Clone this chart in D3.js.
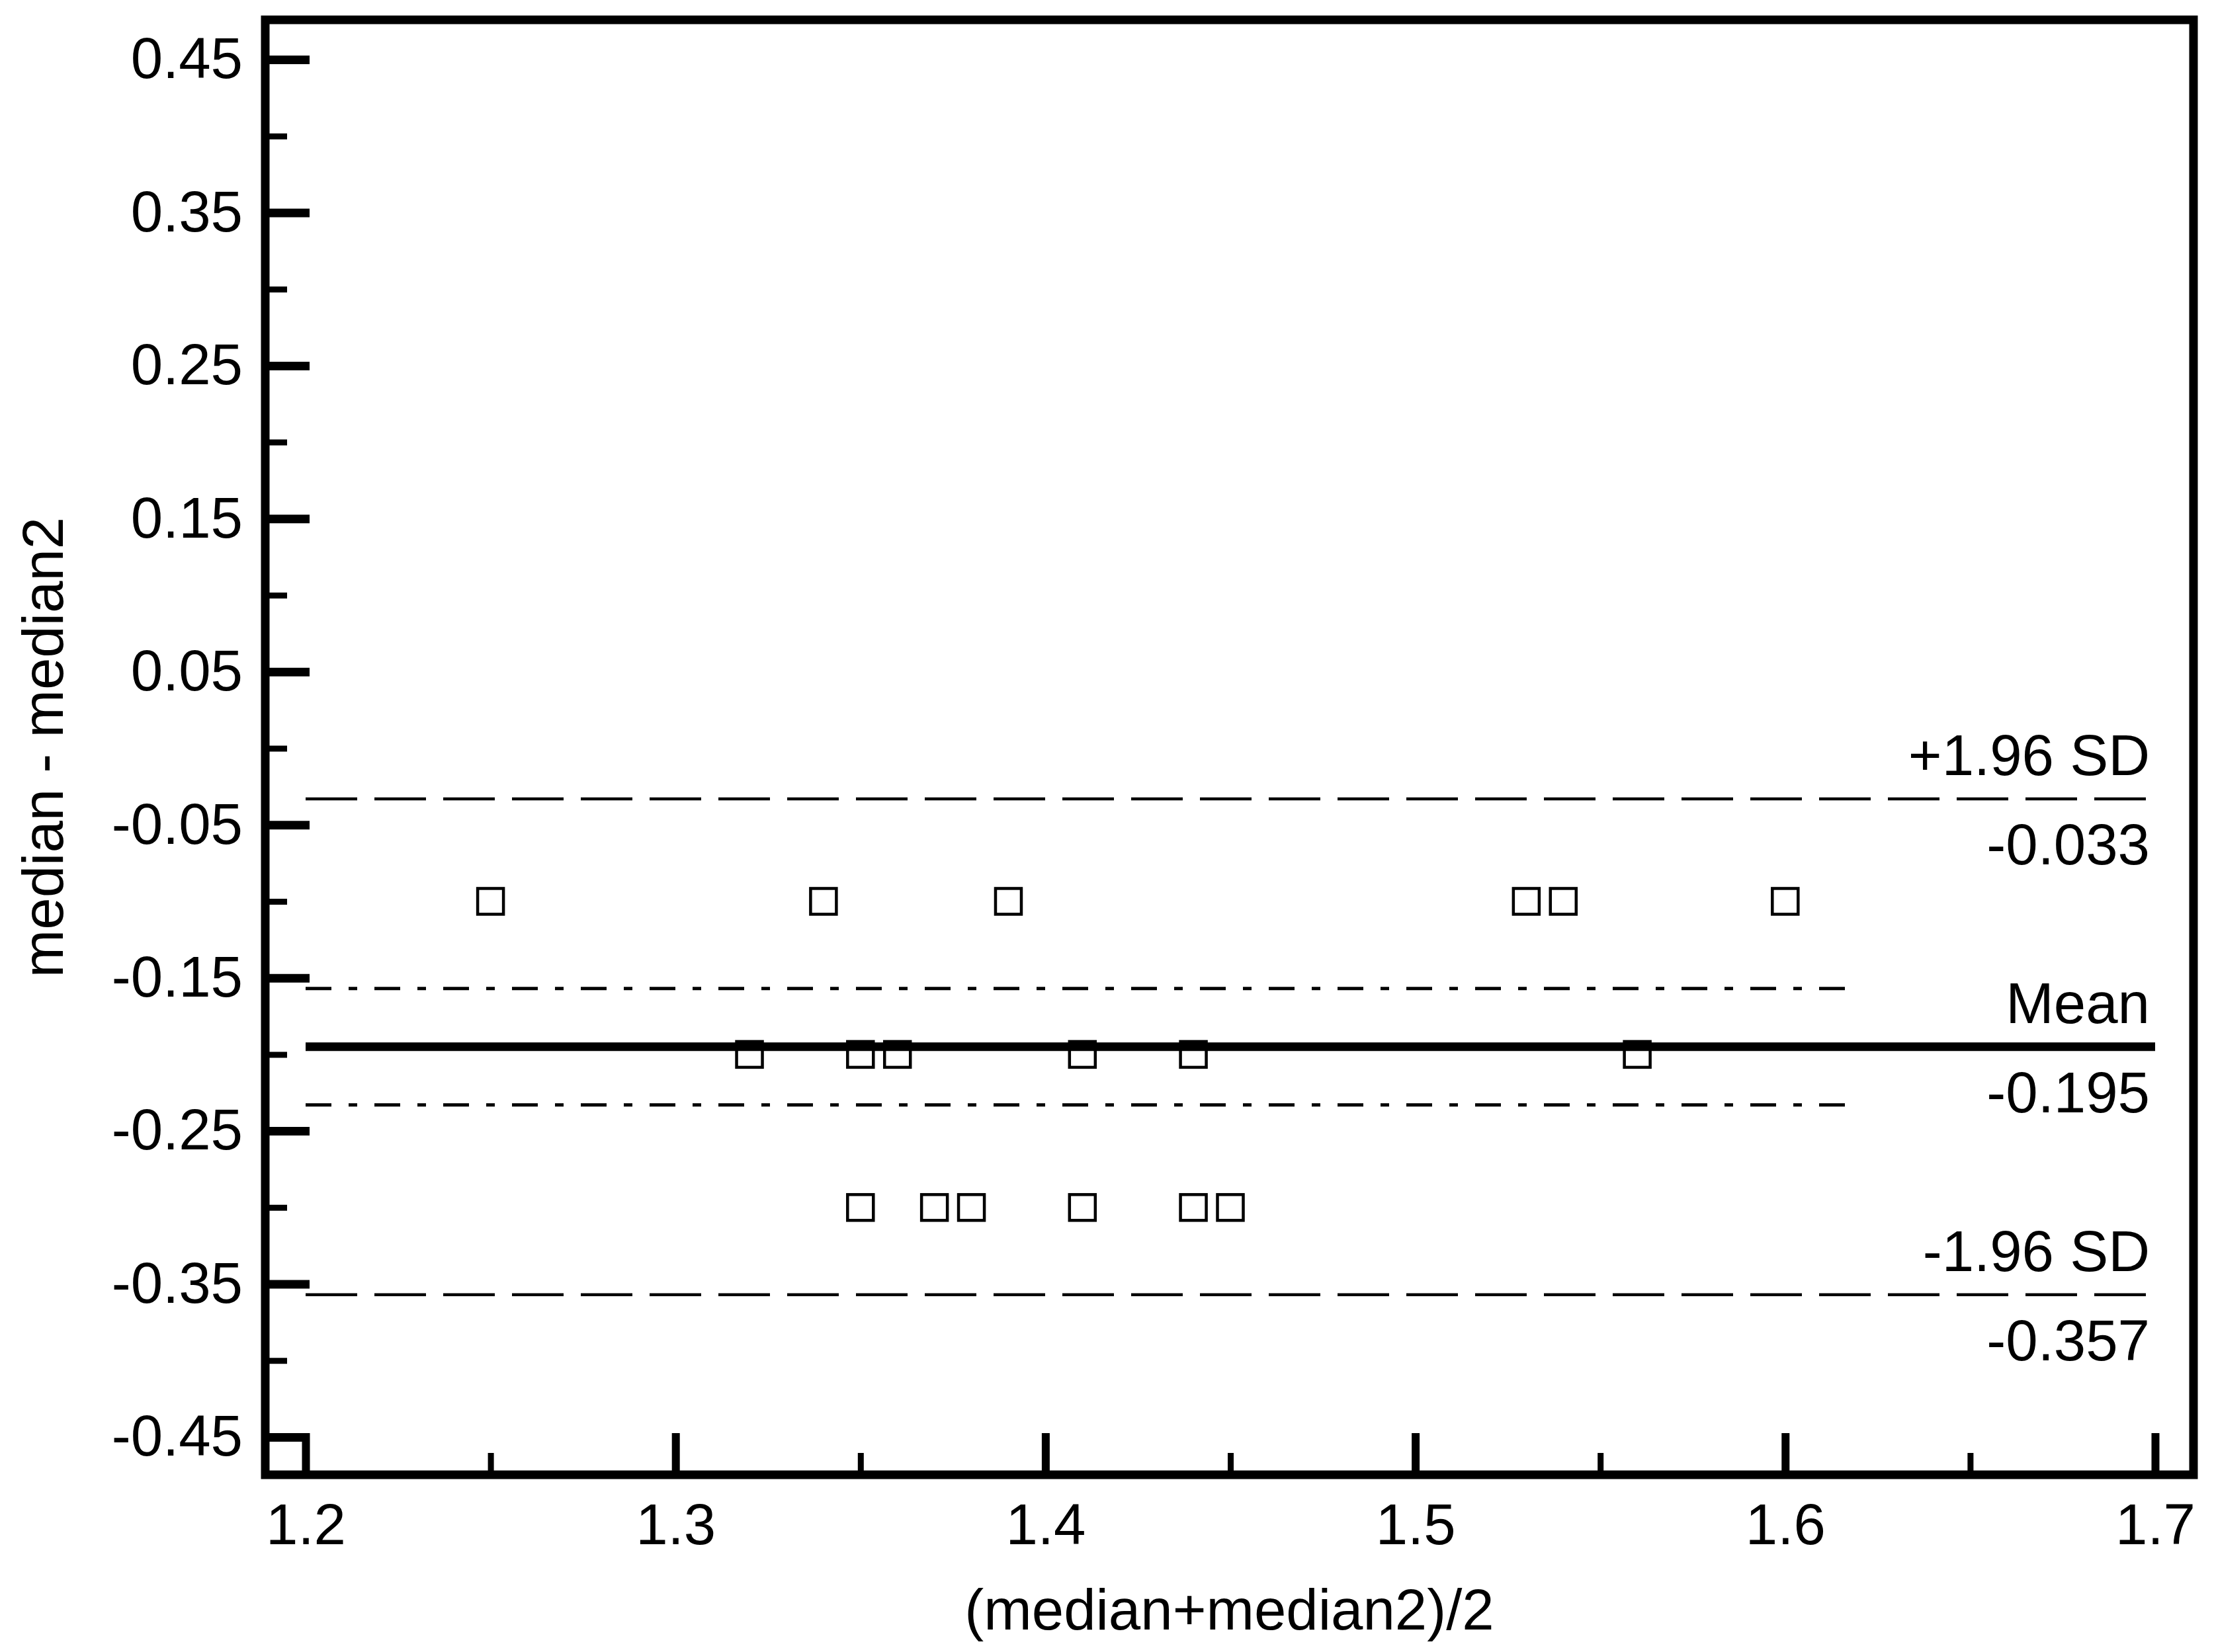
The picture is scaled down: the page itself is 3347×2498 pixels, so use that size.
<!DOCTYPE html>
<html>
<head>
<meta charset="utf-8">
<script src="https://cdn.jsdelivr.net/npm/d3@7"></script>
<style>
  html, body { margin: 0; padding: 0; background: #ffffff; }
  svg { display: block; }
  text { font-family: "Liberation Sans", Arial, sans-serif; fill: #000; }
</style>
</head>
<body>
<script>
// ---- data ----
const meanValues = [1.25, 1.34, 1.39, 1.53, 1.54, 1.60,
                    1.32, 1.35, 1.36, 1.41, 1.44, 1.56,
                    1.35, 1.37, 1.38, 1.41, 1.44, 1.45];
const diffValues = [-0.10, -0.10, -0.10, -0.10, -0.10, -0.10,
                    -0.20, -0.20, -0.20, -0.20, -0.20, -0.20,
                    -0.30, -0.30, -0.30, -0.30, -0.30, -0.30];
const limitValues = [-0.033, -0.195, -0.357];
const limitNames = ["+1.96 SD", "Mean", "-1.96 SD"];
const ciValues = [-0.157, -0.233];
const ciEnd = 1.618;
const xMajorTicks = [1.2, 1.3, 1.4, 1.5, 1.6, 1.7];
const xMinorTicks = [1.25, 1.35, 1.45, 1.55, 1.65];
const yMajorTicks = [0.45, 0.35, 0.25, 0.15, 0.05, -0.05, -0.15, -0.25, -0.35, -0.45];
const yMinorTicks = [0.40, 0.30, 0.20, 0.10, 0.00, -0.10, -0.20, -0.30, -0.40];
const xTitle = "(median+median2)/2";
const yTitle = "median - median2";

// ---- layout ----
const W = 3347, H = 2498;
const frame = { left: 401, right: 3316, top: 30, bottom: 2230 };
const fontSize = 87;

const x = d3.scaleLinear().domain([1.2, 1.7]).range([462, 3258]);
const y = d3.scaleLinear().domain([0.45, -0.45]).range([90, 2173]);

const svg = d3.select("body").append("svg").attr("width", W).attr("height", H);
svg.append("rect").attr("width", W).attr("height", H).attr("fill", "#fff");

// reference lines
const lineX0 = x(1.2), lineX1 = x(1.7);
const refG = svg.append("g");
limitValues.forEach((v, i) => {
  const isMean = i === 1;
  refG.append("line")
    .attr("x1", lineX0).attr("x2", lineX1)
    .attr("y1", y(v)).attr("y2", y(v))
    .attr("stroke", "#000")
    .attr("stroke-width", isMean ? 13 : 4.5)
    .attr("stroke-dasharray", isMean ? null : "78 26");
  refG.append("text")
    .attr("x", lineX1 - 8).attr("y", y(v) - 66)
    .attr("dominant-baseline", "central")
    .attr("text-anchor", "end")
    .attr("font-size", fontSize)
    .text(limitNames[i]);
  refG.append("text")
    .attr("x", lineX1 - 8).attr("y", y(v) + 69)
    .attr("dominant-baseline", "central")
    .attr("text-anchor", "end")
    .attr("font-size", fontSize)
    .text(v.toFixed(3));
});
ciValues.forEach(v => {
  refG.append("line")
    .attr("x1", lineX0).attr("x2", x(ciEnd))
    .attr("y1", y(v)).attr("y2", y(v))
    .attr("stroke", "#000")
    .attr("stroke-width", 5)
    .attr("stroke-dasharray", "39 26 13 26");
});

// points (open squares)
const sq = 39;
svg.append("g").selectAll("rect")
  .data(meanValues.map((m, i) => [m, diffValues[i]]))
  .join("rect")
  .attr("x", d => x(d[0]) - sq / 2)
  .attr("y", d => y(d[1]) - sq / 2)
  .attr("width", sq).attr("height", sq)
  .attr("fill", "none")
  .attr("stroke", "#000")
  .attr("stroke-width", 4.5);

// ticks inward
function styleTicks(g, w) {
  g.select(".domain").remove();
  g.selectAll(".tick line").attr("stroke", "#000").attr("stroke-width", w);
  g.selectAll(".tick text").remove();
}
svg.append("g").attr("transform", `translate(${frame.left},0)`)
  .call(d3.axisRight(y).tickValues(yMajorTicks).tickSize(67).tickFormat(""))
  .call(g => styleTicks(g, 13));
svg.append("g").attr("transform", `translate(${frame.left},0)`)
  .call(d3.axisRight(y).tickValues(yMinorTicks).tickSize(33).tickFormat(""))
  .call(g => styleTicks(g, 9));
svg.append("g").attr("transform", `translate(0,${frame.bottom})`)
  .call(d3.axisTop(x).tickValues(xMajorTicks).tickSize(63).tickFormat(""))
  .call(g => styleTicks(g, 12));
svg.append("g").attr("transform", `translate(0,${frame.bottom})`)
  .call(d3.axisTop(x).tickValues(xMinorTicks).tickSize(33).tickFormat(""))
  .call(g => styleTicks(g, 9));

// tick labels
const yLab = svg.append("g").attr("transform", `translate(${frame.left},0)`)
  .call(d3.axisLeft(y).tickValues(yMajorTicks).tickSize(0).tickPadding(34).tickFormat(d => d.toFixed(2)));
yLab.select(".domain").remove();
yLab.selectAll("text").attr("font-size", fontSize).attr("font-family", null).attr("fill", "#000");

const xLab = svg.append("g").attr("transform", `translate(0,${frame.bottom})`)
  .call(d3.axisBottom(x).tickValues(xMajorTicks).tickSize(0).tickPadding(43).tickFormat(d => d.toFixed(1)));
xLab.select(".domain").remove();
xLab.selectAll("text").attr("font-size", fontSize).attr("font-family", null).attr("fill", "#000");

// frame
svg.append("rect")
  .attr("x", frame.left).attr("y", frame.top)
  .attr("width", frame.right - frame.left).attr("height", frame.bottom - frame.top)
  .attr("fill", "none").attr("stroke", "#000").attr("stroke-width", 13);

// axis titles
svg.append("text")
  .attr("x", (frame.left + frame.right) / 2).attr("y", 2433)
  .attr("text-anchor", "middle").attr("dominant-baseline", "central")
  .attr("font-size", fontSize)
  .text(xTitle);
svg.append("text")
  .attr("transform", `translate(64,${(frame.top + frame.bottom) / 2}) rotate(-90)`)
  .attr("text-anchor", "middle").attr("dominant-baseline", "central")
  .attr("font-size", fontSize)
  .text(yTitle);
</script>
</body>
</html>
